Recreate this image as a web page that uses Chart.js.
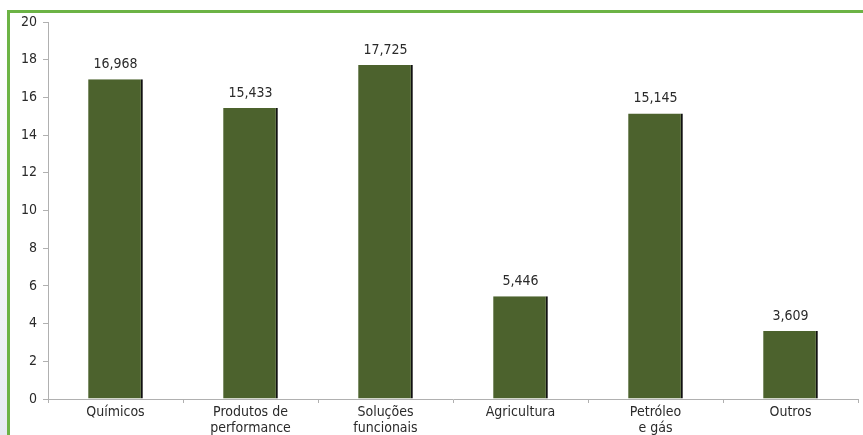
<!DOCTYPE html>
<html>
<head>
<meta charset="utf-8">
<script src="https://cdn.jsdelivr.net/npm/chart.js@4.4.1/dist/chart.umd.min.js"></script>
<style>
  body { margin: 0; width: 863px; height: 435px; overflow: hidden; background: #fff; position: relative; }
  #side { position: absolute; left: 0; top: 12px; width: 8px; height: 423px;
          background: linear-gradient(to bottom, #ffffff 0%, #f3f5f8 60%, #e6ebf2 100%); }
  #frame { position: absolute; left: 7px; top: 10px; width: 856px; height: 425px;
           border-top: 3px solid #6cb345; border-left: 3px solid #6cb345; box-sizing: border-box; }
  #wrap { position: absolute; left: 0; top: 0; width: 863px; height: 435px; }
</style>
</head>
<body>
<div id="side"></div>
<div id="frame"></div>
<div id="wrap"><canvas id="chart"></canvas></div>
<script>
// Categories and values
const categories = [
    "Químicos",
    ["Produtos de", "performance"],
    ["Soluções", "funcionais"],
    "Agricultura",
    ["Petróleo", "e gás"],
    "Outros"
];
const values = [16.968, 15.433, 17.725, 5.446, 15.145, 3.609];
const yTicks = [0, 2, 4, 6, 8, 10, 12, 14, 16, 18, 20];

const fontFamily = "'DejaVu Sans Condensed', 'Liberation Sans Narrow', 'Liberation Sans', sans-serif";

// value labels above bars, comma as decimal separator
const valueLabels = {
    id: 'valueLabels',
    afterDatasetsDraw(chart) {
        const ctx = chart.ctx;
        const meta = chart.getDatasetMeta(0);
        ctx.save();
        ctx.font = "14px " + fontFamily;
        ctx.fillStyle = '#2a2a2a';
        ctx.textAlign = 'center';
        ctx.textBaseline = 'bottom';
        meta.data.forEach((bar, i) => {
            ctx.fillText(values[i].toFixed(3).replace('.', ','), bar.x, bar.y - 8);
        });
        ctx.restore();
    }
};

new Chart(document.getElementById('chart'), {
    type: 'bar',
    data: {
        labels: categories,
        datasets: [{
            data: values,
            backgroundColor: '#4c622d',
            borderColor: '#111',
            borderWidth: { top: 0, left: 0, bottom: 0, right: 2 },
            borderSkipped: false,
            barPercentage: 1,
            categoryPercentage: 0.405
        }]
    },
    options: {
        responsive: true,
        maintainAspectRatio: false,
        animation: false,
        layout: { padding: { top: 22, right: 5, left: 0, bottom: 0 } },
        plugins: { legend: { display: false }, tooltip: { enabled: false } },
        scales: {
            x: {
                grid: { drawOnChartArea: false, drawTicks: true, tickLength: 4, color: '#b0b0b0' },
                border: { color: '#b0b0b0', width: 1 },
                ticks: { color: '#2a2a2a', font: { family: fontFamily, size: 14, lineHeight: 1.15 }, padding: 1, maxRotation: 0, autoSkip: false },
                afterFit(scale) { scale.height = 36; }
            },
            y: {
                min: 0,
                max: 20,
                afterBuildTicks(scale) { scale.ticks = yTicks.map(v => ({ value: v })); },
                grid: { drawOnChartArea: false, drawTicks: true, tickLength: 5, color: '#b0b0b0' },
                border: { color: '#b0b0b0', width: 1 },
                ticks: { color: '#2a2a2a', font: { family: fontFamily, size: 14 }, padding: 6 },
                afterFit(scale) { scale.width = 48; }
            }
        }
    },
    plugins: [valueLabels]
});
</script>
</body>
</html>
